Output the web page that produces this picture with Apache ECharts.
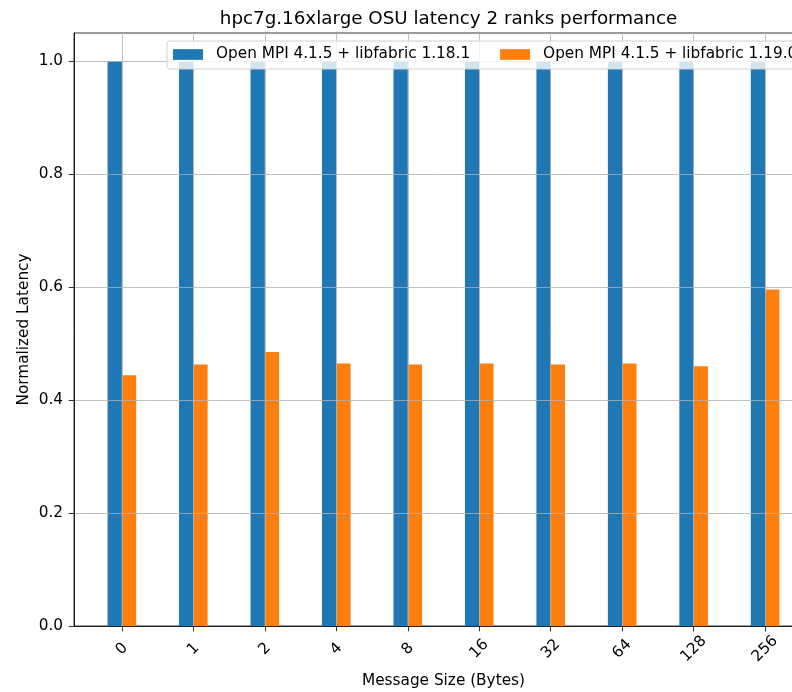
<!DOCTYPE html>
<html>
<head>
<meta charset="utf-8">
<script src="https://cdn.jsdelivr.net/npm/echarts@6/dist/echarts.min.js"></script>
<style>html,body{margin:0;padding:0;background:#fff}#c{width:792px;height:692px}</style>
</head>
<body>
<div id="c"></div>
<script>
const categories = ['0', '1', '2', '4', '8', '16', '32', '64', '128', '256'];
const seriesNames = ['Open MPI 4.1.5 + libfabric 1.18.1', 'Open MPI 4.1.5 + libfabric 1.19.0'];
const values1181 = [1.0, 1.0, 1.0, 1.0, 1.0, 1.0, 1.0, 1.0, 1.0, 1.0];
const values1190 = [0.444, 0.463, 0.485, 0.465, 0.463, 0.465, 0.463, 0.465, 0.460, 0.596];
const yTicks = [0.0, 0.2, 0.4, 0.6, 0.8, 1.0];

const positions = categories.map((_, i) => i);
const font = 'DejaVu Sans';
const fs = 15.3;
const chart = echarts.init(document.getElementById('c'), null, {renderer: 'canvas'});
chart.setOption({
  animation: false,
  backgroundColor: '#fff',
  title: {
    text: 'hpc7g.16xlarge OSU latency 2 ranks performance',
    left: 443.5, textAlign: 'center', top: 5,
    textStyle: {fontFamily: font, fontSize: 18.3, fontWeight: 'normal', color: '#000'}
  },
  legend: {
    left: 167, top: 41, width: 760,
    orient: 'horizontal',
    padding: [6, 10, 7, 6],
    itemWidth: 30, itemHeight: 10.7, itemGap: 30,
    icon: 'rect',
    backgroundColor: 'rgba(255,255,255,0.8)',
    borderColor: '#d0d0d0', borderWidth: 1, borderRadius: 3,
    textStyle: {fontFamily: font, fontSize: fs, color: '#000', padding: [0, 0, 0, 8]},
    data: seriesNames
  },
  grid: {
    left: 74, top: 33, right: -21, bottom: 66,
    outerBoundsMode: 'none',
    show: true, borderColor: '#000', borderWidth: 0.8,
    containLabel: false
  },
  xAxis: {
    type: 'value', min: -0.67, max: 9.67, z: 3,
    name: 'Message Size (Bytes)', nameLocation: 'middle', nameGap: 48,
    nameTextStyle: {fontFamily: font, fontSize: fs, color: '#000'},
    axisLine: {show: true, onZero: false, lineStyle: {color: '#000', width: 0.8}},
    axisTick: {show: true, length: 5.3, customValues: positions, lineStyle: {color: '#000', width: 0.8}},
    axisLabel: {
      customValues: positions, rotate: 45, align: 'center', verticalAlign: 'middle', margin: 23,
      fontFamily: font, fontSize: fs, color: '#000',
      formatter: v => categories[Math.round(v)]
    },
    splitLine: {show: true, lineStyle: {color: '#b0b0b0', width: 0.8}}
  },
  yAxis: {
    type: 'value', min: 0, max: 1.05, z: 3,
    name: 'Normalized Latency', nameLocation: 'middle', nameGap: 42, nameMoveOverlap: false,
    nameTextStyle: {fontFamily: font, fontSize: fs, color: '#000'},
    axisLine: {show: true, onZero: false, lineStyle: {color: '#000', width: 0.8}},
    axisTick: {show: true, length: 5.3, customValues: yTicks, lineStyle: {color: '#000', width: 0.8}},
    axisLabel: {
      customValues: yTicks, margin: 11,
      fontFamily: font, fontSize: fs, color: '#000',
      formatter: v => v.toFixed(1)
    },
    splitLine: {show: true, lineStyle: {color: '#b0b0b0', width: 0.8}}
  },
  series: [
    {name: seriesNames[0], type: 'bar', barWidth: 14.3, barGap: '0%', itemStyle: {color: '#1f77b4'},
     data: positions.map((p, i) => [p, values1181[i]])},
    {name: seriesNames[1], type: 'bar', barWidth: 14.3, barGap: '0%', itemStyle: {color: '#ff7f0e'},
     data: positions.map((p, i) => [p, values1190[i]])}
  ]
});
</script>
</body>
</html>
